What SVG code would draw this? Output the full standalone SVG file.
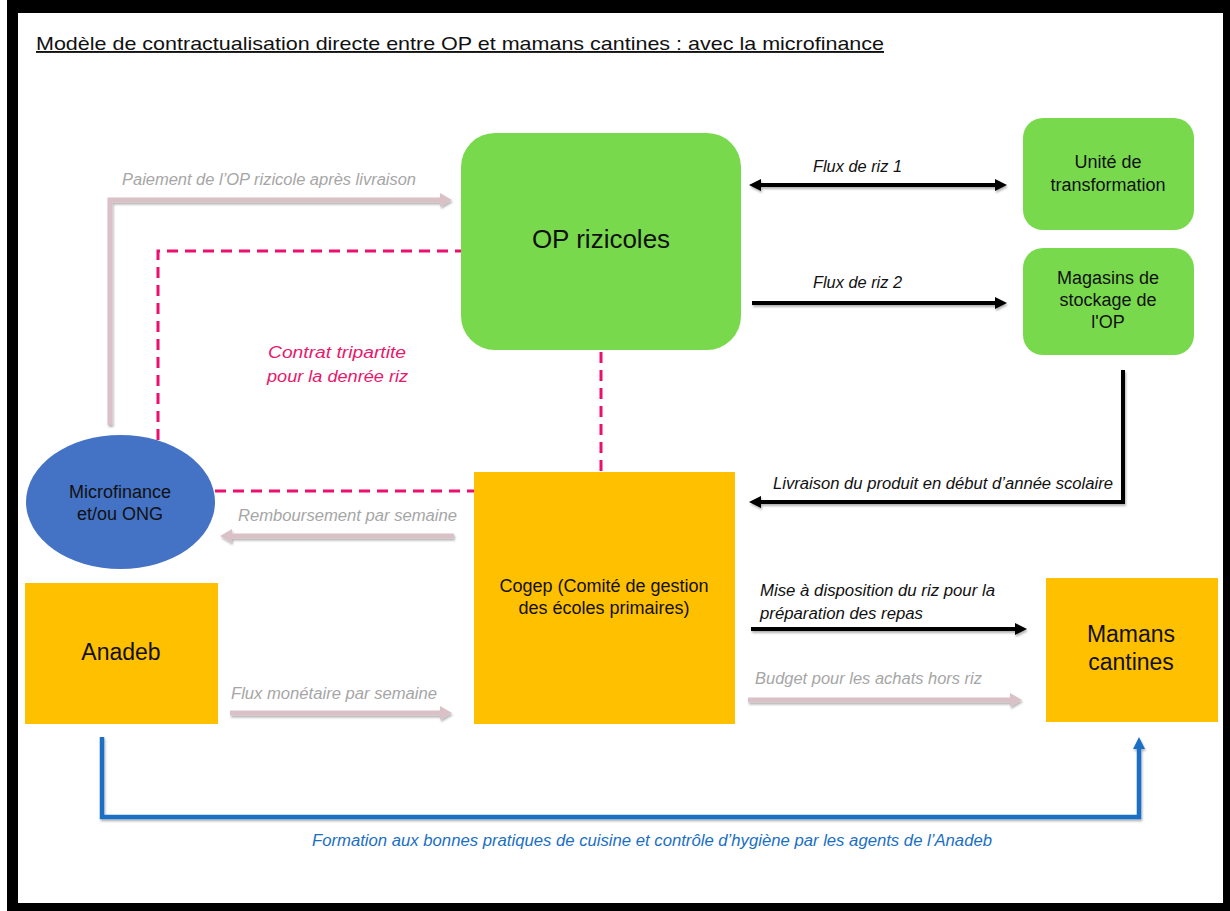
<svg xmlns="http://www.w3.org/2000/svg" width="1230" height="911" viewBox="0 0 1230 911">
<style>
.node-text{font-family:"Liberation Sans",Arial,sans-serif;fill:#111;text-anchor:middle}
.lbl{font-family:"Liberation Sans",Arial,sans-serif;font-style:italic;font-size:16px}
.lbl-gray{fill:#a6a6a6}
.lbl-black{fill:#111}
.lbl-pink{fill:#e8186b}
.lbl-blue{fill:#1a6fc4}
.c-gray{fill:none;stroke:#d9c1c7;stroke-width:5}
.c-black{fill:none;stroke:#000;stroke-width:4}
.c-blue{fill:none;stroke:#1a6fc4;stroke-width:4.5}
.c-dash{fill:none;stroke:#ec0f6d;stroke-width:3;stroke-dasharray:11 7}
.green{fill:#79d94d}
.yellow{fill:#ffc000}
</style>
<defs>
<filter id="sh" x="-5%" y="-50%" width="110%" height="200%">
<feDropShadow dx="1" dy="2" stdDeviation="1.2" flood-color="#000" flood-opacity="0.3"/>
</filter>
<marker id="ah-gray" markerUnits="userSpaceOnUse" markerWidth="12" markerHeight="14" refX="4" refY="7" orient="auto-start-reverse">
<path d="M0,0 L12,7 L0,14 z" fill="#d9c1c7"/>
</marker>
<marker id="ah-black" markerUnits="userSpaceOnUse" markerWidth="12" markerHeight="12" refX="4" refY="6" orient="auto-start-reverse">
<path d="M0,0 L12,6 L0,12 z" fill="#000"/>
</marker>
<marker id="ah-blue" markerUnits="userSpaceOnUse" markerWidth="12" markerHeight="12" refX="4" refY="6" orient="auto-start-reverse">
<path d="M0,0 L12,6 L0,12 z" fill="#1a6fc4"/>
</marker>
</defs>

<!-- frame -->
<rect x="0" y="0" width="1230" height="911" fill="#fff"/>
<rect x="7" y="0" width="1223" height="911" fill="#000"/>
<rect x="18" y="13" width="1205" height="890" fill="#fff"/>

<!-- title -->
<text x="36" y="50" font-family="'Liberation Sans',Arial,sans-serif" font-size="19" fill="#111" text-decoration="underline" textLength="848" lengthAdjust="spacingAndGlyphs">Modèle de contractualisation directe entre OP et mamans cantines : avec la microfinance</text>

<g id="connectors">
<!-- dashed tripartite contract -->
<path class="c-dash" d="M158,440 V251 H461"/>
<path class="c-dash" d="M215,491 H474"/>
<path class="c-dash" d="M601,352 V472"/>
<g filter="url(#sh)">
<path class="c-gray" d="M110,425 V200 H444" marker-end="url(#ah-gray)"/>
<path class="c-gray" d="M454,536 H228" marker-end="url(#ah-gray)"/>
<path class="c-gray" d="M230,713 H444" marker-end="url(#ah-gray)"/>
<path class="c-gray" d="M748,700 H1014" marker-end="url(#ah-gray)"/>
<path class="c-black" d="M757,185 H999" marker-start="url(#ah-black)" marker-end="url(#ah-black)"/>
<path class="c-black" d="M752,303 H999" marker-end="url(#ah-black)"/>
<path class="c-black" d="M1123,370 V502 H757" marker-end="url(#ah-black)"/>
<path class="c-black" d="M751,629 H1019" marker-end="url(#ah-black)"/>
<path class="c-blue" d="M102,737 V817 H1139 V745" marker-end="url(#ah-blue)"/>
</g>
<text class="lbl lbl-gray" x="122" y="185" textLength="294" lengthAdjust="spacingAndGlyphs">Paiement de l’OP rizicole après livraison</text>
<text class="lbl lbl-pink" x="268" y="358" textLength="138" lengthAdjust="spacingAndGlyphs">Contrat tripartite</text>
<text class="lbl lbl-pink" x="267" y="382" textLength="141" lengthAdjust="spacingAndGlyphs">pour la denrée riz</text>
<text class="lbl lbl-gray" x="238" y="521" textLength="219" lengthAdjust="spacingAndGlyphs">Remboursement par semaine</text>
<text class="lbl lbl-gray" x="231" y="699" textLength="206" lengthAdjust="spacingAndGlyphs">Flux monétaire par semaine</text>
<text class="lbl lbl-black" x="813" y="172" textLength="89" lengthAdjust="spacingAndGlyphs">Flux de riz 1</text>
<text class="lbl lbl-black" x="813" y="288" textLength="89" lengthAdjust="spacingAndGlyphs">Flux de riz 2</text>
<text class="lbl lbl-black" x="773" y="489" textLength="340" lengthAdjust="spacingAndGlyphs">Livraison du produit en début d’année scolaire</text>
<text class="lbl lbl-black" x="760" y="596" textLength="235" lengthAdjust="spacingAndGlyphs">Mise à disposition du riz pour la</text>
<text class="lbl lbl-black" x="760" y="619" textLength="163" lengthAdjust="spacingAndGlyphs">préparation des repas</text>
<text class="lbl lbl-gray" x="755" y="684" textLength="227" lengthAdjust="spacingAndGlyphs">Budget pour les achats hors riz</text>
<text class="lbl lbl-blue" x="312" y="846" textLength="680" lengthAdjust="spacingAndGlyphs">Formation aux bonnes pratiques de cuisine et contrôle d’hygiène par les agents de l’Anadeb</text>
</g>

<g id="op-rizicoles">
<rect class="green" x="461" y="133" width="280" height="217" rx="34"/>
<text class="node-text" x="601" y="248" font-size="26">OP rizicoles</text>
</g>

<g id="unite-transformation">
<rect class="green" x="1023" y="118" width="171" height="112" rx="20"/>
<text class="node-text" x="1108" y="168" font-size="18">Unité de</text>
<text class="node-text" x="1108" y="191" font-size="18">transformation</text>
</g>

<g id="magasins-stockage">
<rect class="green" x="1023" y="248" width="171" height="107" rx="20"/>
<text class="node-text" x="1108" y="284" font-size="18">Magasins de</text>
<text class="node-text" x="1108" y="306" font-size="18">stockage de</text>
<text class="node-text" x="1108" y="328" font-size="18">l'OP</text>
</g>

<g id="microfinance">
<ellipse cx="120.5" cy="502" rx="94.5" ry="67" fill="#4472c4"/>
<text class="node-text" x="120" y="498" font-size="18">Microfinance</text>
<text class="node-text" x="120" y="520" font-size="18">et/ou ONG</text>
</g>

<g id="anadeb">
<rect class="yellow" x="25" y="583" width="193" height="141"/>
<text class="node-text" x="121" y="660" font-size="23">Anadeb</text>
</g>

<g id="cogep">
<rect class="yellow" x="474" y="472" width="261" height="252"/>
<text class="node-text" x="604" y="592" font-size="18">Cogep (Comité de gestion</text>
<text class="node-text" x="604" y="614" font-size="18">des écoles primaires)</text>
</g>

<g id="mamans-cantines">
<rect class="yellow" x="1046" y="578" width="172" height="144"/>
<text class="node-text" x="1131" y="642" font-size="23">Mamans</text>
<text class="node-text" x="1131" y="670" font-size="23">cantines</text>
</g>
</svg>
